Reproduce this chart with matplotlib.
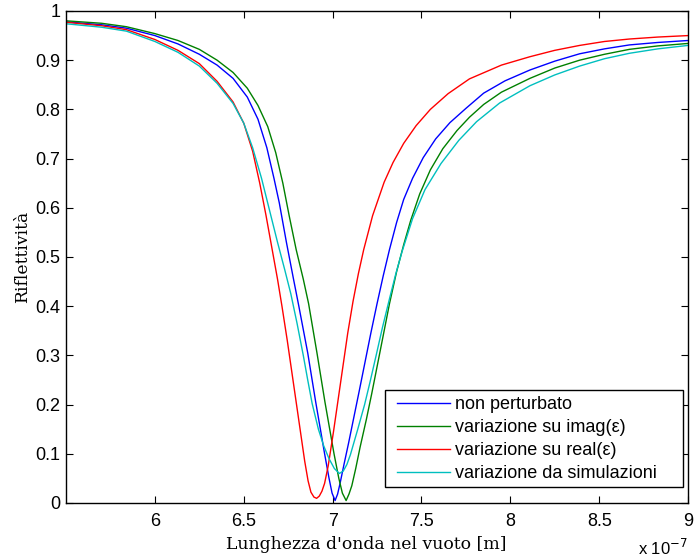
import matplotlib
matplotlib.use('Agg')
import matplotlib.pyplot as plt
from matplotlib.patches import Rectangle

# wavelength in units of 1e-7 m, reflectivity
lam_blue = [5.50, 5.70, 5.84, 6.00, 6.13, 6.25, 6.35, 6.44, 6.52, 6.58, 6.63, 6.67, 6.70, 6.74,
            6.78, 6.81, 6.86, 6.905, 6.955, 6.98, 6.997, 7.014, 7.028, 7.042, 7.065, 7.09, 7.12,
            7.15, 7.18, 7.215, 7.25, 7.285, 7.32, 7.36, 7.40, 7.45, 7.51, 7.58, 7.66, 7.75, 7.85,
            7.97, 8.11, 8.25, 8.39, 8.53, 8.67, 8.83, 9.00]
r_blue = [0.978, 0.972, 0.965, 0.950, 0.933, 0.912, 0.890, 0.863, 0.825, 0.780, 0.722, 0.660, 0.610, 0.530,
          0.455, 0.400, 0.305, 0.205, 0.100, 0.050, 0.020, 0.005, 0.018, 0.040, 0.080, 0.122, 0.175,
          0.228, 0.282, 0.345, 0.405, 0.462, 0.515, 0.570, 0.617, 0.660, 0.702, 0.740, 0.773, 0.802, 0.833,
          0.858, 0.880, 0.898, 0.913, 0.923, 0.931, 0.936, 0.940]

lam_green = [5.50, 5.70, 5.84, 6.00, 6.13, 6.25, 6.35, 6.44, 6.52, 6.58, 6.635, 6.68, 6.72, 6.755,
             6.795, 6.835, 6.865, 6.912, 6.957, 7.008, 7.035, 7.055, 7.076, 7.092, 7.108, 7.13, 7.155,
             7.19, 7.22, 7.26, 7.29, 7.32, 7.36, 7.40, 7.44, 7.49, 7.55, 7.62, 7.70, 7.77, 7.85, 7.95,
             8.11, 8.25, 8.39, 8.53, 8.67, 8.83, 9.00]
r_green = [0.980, 0.975, 0.968, 0.954, 0.940, 0.922, 0.900, 0.875, 0.843, 0.808, 0.765, 0.712, 0.650, 0.585,
           0.515, 0.455, 0.405, 0.305, 0.205, 0.100, 0.050, 0.020, 0.005, 0.018, 0.035, 0.070, 0.114,
           0.170, 0.222, 0.295, 0.350, 0.405, 0.470, 0.525, 0.575, 0.628, 0.677, 0.720, 0.757, 0.784, 0.810,
           0.835, 0.863, 0.884, 0.900, 0.912, 0.922, 0.929, 0.934]

lam_red = [5.50, 5.70, 5.84, 6.00, 6.13, 6.25, 6.35, 6.44, 6.50, 6.55, 6.59, 6.625, 6.66, 6.69,
           6.715, 6.745, 6.775, 6.815, 6.843, 6.862, 6.878, 6.895, 6.910, 6.925, 6.940, 6.955, 6.975,
           7.005, 7.045, 7.085, 7.115, 7.145, 7.175, 7.225, 7.29, 7.34, 7.40, 7.47, 7.55, 7.65, 7.77,
           7.95, 8.11, 8.25, 8.39, 8.53, 8.67, 8.83, 9.00]
r_red = [0.977, 0.970, 0.962, 0.942, 0.920, 0.893, 0.857, 0.815, 0.772, 0.715, 0.650, 0.585, 0.515, 0.455,
         0.400, 0.330, 0.255, 0.155, 0.085, 0.045, 0.022, 0.012, 0.0095, 0.014, 0.024, 0.040, 0.075,
         0.145, 0.245, 0.345, 0.410, 0.466, 0.515, 0.584, 0.652, 0.692, 0.731, 0.767, 0.800, 0.832, 0.862,
         0.890, 0.907, 0.920, 0.930, 0.938, 0.943, 0.947, 0.950]

lam_cyan = [5.50, 5.70, 5.84, 6.00, 6.13, 6.25, 6.35, 6.44, 6.50, 6.55, 6.60, 6.645, 6.69, 6.73,
            6.765, 6.80, 6.835, 6.86, 6.885, 6.92, 6.95, 6.98, 7.01, 7.038, 7.06, 7.08, 7.10, 7.14,
            7.18, 7.21, 7.245, 7.28, 7.32, 7.355, 7.39, 7.45, 7.52, 7.61, 7.71, 7.81, 7.94, 8.11,
            8.25, 8.39, 8.53, 8.67, 8.83, 9.00]
r_cyan = [0.974, 0.967, 0.959, 0.938, 0.916, 0.888, 0.853, 0.812, 0.772, 0.722, 0.660, 0.595, 0.530, 0.475,
          0.425, 0.365, 0.300, 0.250, 0.202, 0.150, 0.116, 0.090, 0.070, 0.060, 0.065, 0.078, 0.098, 0.148,
          0.200, 0.245, 0.300, 0.356, 0.415, 0.465, 0.510, 0.578, 0.637, 0.690, 0.737, 0.775, 0.813, 0.848,
          0.870, 0.888, 0.903, 0.914, 0.923, 0.930]

labels = ['non perturbato', 'variazione su imag(ε)', 'variazione su real(ε)', 'variazione da simulazioni']
colors = ['#0000ff', '#008000', '#ff0000', '#00bfbf']

x_ticks = [6, 6.5, 7, 7.5, 8, 8.5, 9]
x_ticklabels = ['6', '6.5', '7', '7.5', '8', '8.5', '9']
y_ticks = [0, 0.1, 0.2, 0.3, 0.4, 0.5, 0.6, 0.7, 0.8, 0.9, 1]
y_ticklabels = ['0', '0.1', '0.2', '0.3', '0.4', '0.5', '0.6', '0.7', '0.8', '0.9', '1']

fig = plt.figure(figsize=(6.95, 5.6), dpi=100)
ax = fig.add_axes([0.095, 0.1018, 0.895, 0.8786])

series = [(lam_blue, r_blue), (lam_green, r_green), (lam_red, r_red), (lam_cyan, r_cyan)]
for (lx, ry), c, lab in zip(series, colors, labels):
    ax.plot(lx, ry, color=c, lw=1.0, label=lab)

ax.set_xlim(5.5, 9)
ax.set_ylim(0, 1)
ax.set_xticks(x_ticks)
ax.set_xticklabels(x_ticklabels)
ax.set_yticks(y_ticks)
ax.set_yticklabels(y_ticklabels)
ax.tick_params(direction='in', top=True, right=True, length=5, width=0.8, labelsize=13)
ax.tick_params(axis='x', pad=7)
ax.tick_params(axis='y', pad=4)
for lbl in ax.get_xticklabels() + ax.get_yticklabels():
    lbl.set_fontfamily('Liberation Sans')
for s in ax.spines.values():
    s.set_linewidth(1.0)

ax.set_xlabel("Lunghezza d'onda nel vuoto [m]", family='DejaVu Serif', fontsize=12.4)
ax.xaxis.set_label_coords(0.482, -0.068)
ax.set_ylabel('Riflettività', family='DejaVu Serif', fontsize=12.4)
ax.yaxis.set_label_coords(-0.056, 0.501)
ax.text(1.0, -0.092, r'x 10$^{-7}$', transform=ax.transAxes, ha='right', va='center',
        family='Liberation Sans', fontsize=12)

# MATLAB-like legend: box drawn separately so it keeps the wide right margin
ax.add_patch(Rectangle((0.5129, 0.0325), 0.4791, 0.1972, transform=ax.transAxes,
                       facecolor='white', edgecolor='black', lw=1.0, zorder=4))
leg = ax.legend(loc='upper left', bbox_to_anchor=(0.532, 0.2175), borderaxespad=0, borderpad=0,
                frameon=False, prop={'family': 'Liberation Sans', 'size': 13},
                handlelength=2.93, labelspacing=0.33, handletextpad=0.28)
leg.set_zorder(5)

fig.savefig('out.png', dpi=100)
